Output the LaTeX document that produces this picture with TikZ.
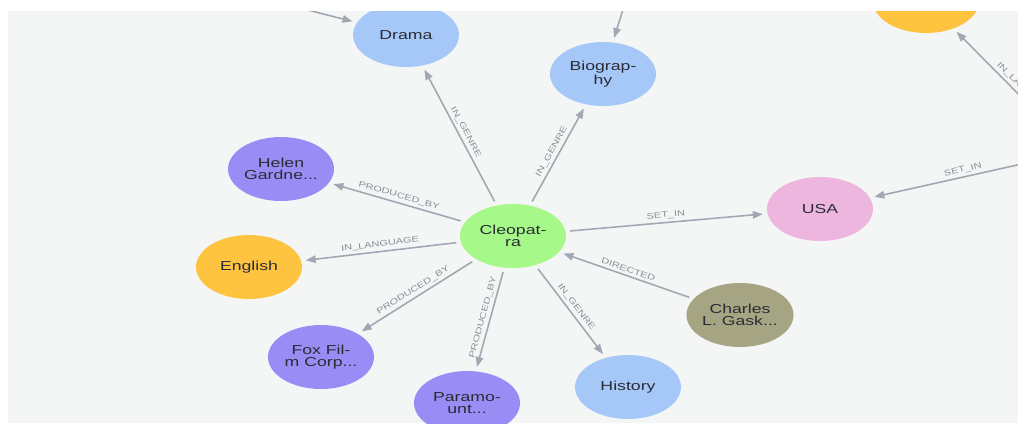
\documentclass[tikz,border=0pt]{standalone}
\usepackage{fontspec}
\setmainfont{Liberation Sans}[FakeStretch=1.36]
\usetikzlibrary{arrows.meta}
\usetikzlibrary{shapes.geometric}

\definecolor{panel}{HTML}{F4F5F5}
\definecolor{edge}{HTML}{A2A8B3}
\definecolor{lbltext}{HTML}{8A8F98}
\definecolor{nodetext}{HTML}{2A2C34}
\definecolor{movie}{HTML}{A6F888}
\definecolor{genre}{HTML}{A6C8F9}
\definecolor{company}{HTML}{9A8CF5}
\definecolor{language}{HTML}{FEC440}
\definecolor{country}{HTML}{EDB6DF}
\definecolor{person}{HTML}{A6A583}

\begin{document}
\begin{tikzpicture}[x=0.02cm, y=-0.02cm,
		ent/.style={ellipse, minimum width=2.12cm, minimum height=1.28cm, inner sep=0pt, align=center, text=nodetext, font=\fontsize{7.4}{6.8}\selectfont},
		rel/.style={draw=edge, line width=0.9pt, -{Triangle[length=0.2cm, width=0.15cm]}, shorten <=2.5pt, shorten >=2.5pt},
		lbl/.style={sloped, above, inner sep=1.5pt, text=lbltext, font=\fontsize{4.6}{5}\selectfont}]
		\useasboundingbox (0,0) rectangle (1018,423);
		\fill[panel] (8,11) rectangle (1018,423);
		\clip (8,11) rectangle (1018,423);

		\node[ent, fill=movie] (cleo) at (513,236) {Cleopat-\\ra};
		\node[ent, fill=genre] (drama) at (406,35) {Drama};
		\node[ent, fill=genre] (bio) at (603,74) {Biograp-\\hy};
		\node[ent, fill=genre] (history) at (628,387) {History};
		\node[ent, fill=company] (helen) at (281,169) {Helen\\Gardne...};
		\node[ent, fill=company] (fox) at (321,357) {Fox Fil-\\m Corp...};
		\node[ent, fill=company] (para) at (467,403) {Paramo-\\unt...};
		\node[ent, fill=language] (english) at (249,267) {English};
		\node[ent, fill=language] (toplang) at (926,1) {};
		\node[ent, fill=country] (usa) at (820,209) {USA};
		\node[ent, fill=person] (charles) at (740,315) {Charles\\L. Gask...};

		\foreach \t/\txt in {drama/IN\_GENRE, bio/IN\_GENRE, helen/PRODUCED\_BY, english/IN\_LANGUAGE, fox/PRODUCED\_BY, para/PRODUCED\_BY, history/IN\_GENRE, usa/SET\_IN}
			\draw[rel] (cleo) -- node[lbl] {\txt} (\t);
		\draw[rel] (charles) -- node[lbl] {DIRECTED} (cleo);

		% edges coming in from nodes outside the view
		\coordinate (offa) at (229,-10);
		\coordinate (offb) at (629,-10);
		\coordinate (offc) at (1080,151);
		\coordinate (offd) at (1060,136);
		\draw[rel] (offa) -- (drama);
		\draw[rel] (offb) -- (bio);
		\draw[rel] (offc) -- node[lbl, pos=0.55] {SET\_IN} (usa);
		\draw[rel] (offd) -- node[lbl, pos=0.37] {IN\_LANGUAGE} (toplang);
	\end{tikzpicture}
\end{document}
